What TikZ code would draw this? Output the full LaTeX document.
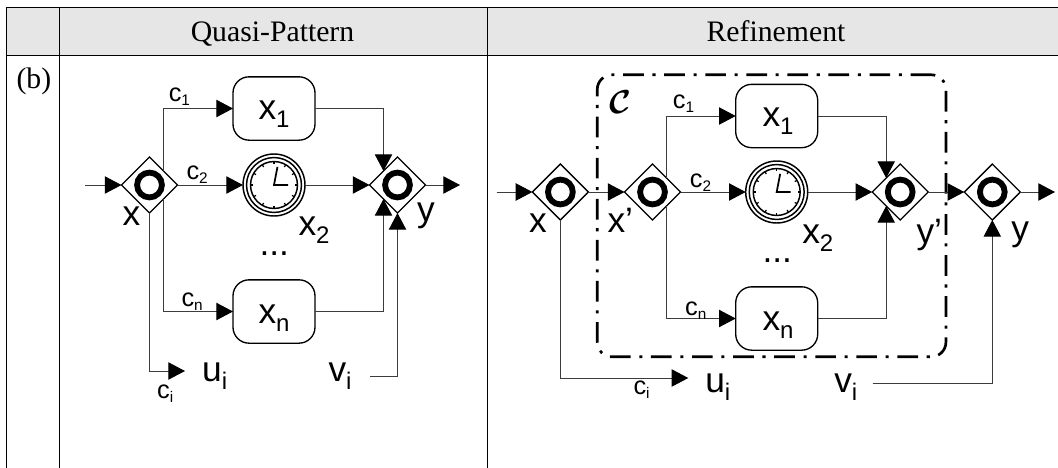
\documentclass[tikz,border=0pt]{standalone}
\usepackage{fontspec}
\setmainfont{Liberation Serif}
\setsansfont{Liberation Sans}
\usetikzlibrary{arrows.meta,shapes.geometric}

\tikzset{every picture/.style={line width=0.75pt}}
\tikzset{
  flow/.style={color={rgb, 255:red, 60; green, 60; blue, 60}, line width=0.75pt, -{Triangle[length=12.5pt,width=13pt,color=black]}},
  gate/.style={diamond, draw, line width=1pt, minimum size=42pt, inner sep=0pt, outer sep=0pt,
    path picture={\draw[line width=4.4pt] (path picture bounding box.center) circle (9.3pt);}},
  taskbox/.style={draw, line width=1pt, rounded corners=12pt, minimum width=61.5pt, minimum height=47.5pt, inner sep=0pt, outer sep=0pt},
  header/.style={font=\fontsize{22.3}{28}\selectfont, inner sep=0pt},
  biglabel/.style={font=\sffamily\fontsize{26.5}{30}\selectfont, inner sep=0pt, anchor=base west},
  smalllabel/.style={font=\sffamily\fontsize{19}{22}\selectfont, inner sep=0pt, anchor=base west},
  timerring/.style={circle, draw, line width=1.1pt, inner sep=0pt, outer sep=0pt, minimum size=46.5pt}
}
% subscripts for the large and the small labels
\newcommand{\lsub}[1]{\raisebox{-6pt}{\fontsize{18}{18}\selectfont #1}}
\newcommand{\ssub}[1]{\raisebox{-3pt}{\fontsize{11.5}{12}\selectfont #1}}
% timer event: name, x, y
\newcommand{\timerevent}[3]{
  \node (#1) [timerring] at (#2,#3) {};
  \draw [line width=1.1pt] (#1) circle (20.6pt);
  \draw [line width=1.1pt] (#1) circle (17.6pt);
  \foreach \tickangle in {0,30,...,330}
    \draw [line width=0.9pt] ([shift={(\tickangle:17.6pt)}]#1.center) -- ([shift={(\tickangle:15.6pt)}]#1.center);
  \draw [line width=1.3pt] ([shift={(2.6pt,-13.6pt)}]#1.center) -- (#1.center) -- ([shift={(10.5pt,0pt)}]#1.center);
}

\begin{document}
\boldmath
\begin{tikzpicture}[x=0.75pt,y=0.75pt,yscale=-1,xscale=1]
  \useasboundingbox (0,0) rectangle (1058,468);

  % Table
  \fill [color={rgb, 255:red, 230; green, 230; blue, 230}] (6.5,7.5) rectangle (1058,55.3);
  \draw [line width=1pt] (1058,7.5) -- (6.5,7.5) -- (6.5,468);
  \draw [line width=1pt] (6.5,55.3) -- (1058,55.3);
  \draw [line width=1pt] (59.5,7.5) -- (59.5,468);
  \draw [line width=1pt] (487.4,7.5) -- (487.4,468);

  % Text Node
  \node (headleft) [header, anchor=base] at (272.5,41) {Quasi-Pattern};
  \node (headright) [header, anchor=base] at (776,41) {Refinement};
  \node (rowlabel) [header, anchor=base west] at (16,88) {(b)};

  % Left gateways and tasks
  \node (xgate) [gate] at (149.5,185) {};
  \node (ygate) [gate] at (397.5,185) {};
  \node (xone) [taskbox] at (274,108.5) {};
  \node (xnn) [taskbox] at (274,311.5) {};
  \timerevent{xtwo}{274}{185}
  \coordinate (instart) at (85,185);
  \coordinate (outend) at (460,185);
  \coordinate (uend) at (185,371);
  \coordinate (vstart) at (370,376);

  % Left connectors
  \draw [flow] (instart) -- (xgate.west);
  \draw [flow] (xgate.east) -- (xtwo.west);
  \draw [flow] (xgate.north east) |- (xone.west);
  \draw [flow] (xgate.south east) |- (xnn.west);
  \draw [flow] (xgate.south) |- (uend);
  \draw [flow] (xone.east) -| (ygate.north west);
  \draw [flow] (xtwo.east) -- (ygate.west);
  \draw [flow] (xnn.east) -| (ygate.south west);
  \draw [flow] (vstart) -| (ygate.south);
  \draw [flow] (ygate.east) -- (outend);

  % Left labels
  \node (lblcone) [smalllabel] at (168.3,101.7) {c\ssub{1}};
  \node (lblctwo) [smalllabel] at (186,179) {c\ssub{2}};
  \node (lblcn) [smalllabel] at (181,306) {c\ssub{n}};
  \node (lblci) [smalllabel] at (156.7,398) {c\ssub{i}};
  \node (lblx) [biglabel] at (122,225) {x};
  \node (lblxone) [biglabel] at (258,119) {x\lsub{1}};
  \node (lblxtwo) [biglabel] at (298,235) {x\lsub{2}};
  \node (lbldots) [biglabel] at (259,255) {...};
  \node (lblxn) [biglabel] at (258,323) {x\lsub{n}};
  \node (lbly) [biglabel] at (416.7,221.7) {y};
  \node (lblu) [biglabel] at (201.7,381.7) {u\lsub{i}};
  \node (lblv) [biglabel] at (328,381.7) {v\lsub{i}};

  % Refinement gateways and tasks
  \node (cregion) [draw, line width=2pt, rounded corners=11pt, dash pattern={on 15.5pt off 6.5pt on 2.3pt off 6.5pt},
    minimum width=261.5pt, minimum height=211.5pt, inner sep=0pt] at (771.6,215.8) {};
  \node (rxgate) [gate] at (560.4,192) {};
  \node (rxpgate) [gate] at (652.5,192) {};
  \node (rypgate) [gate] at (900.2,192) {};
  \node (rygate) [gate] at (992.3,192) {};
  \node (rxone) [taskbox] at (776.7,116) {};
  \node (rxnn) [taskbox] at (776.7,318.5) {};
  \timerevent{rxtwo}{776.7}{192}
  \coordinate (rinstart) at (496.6,192);
  \coordinate (routend) at (1055,192);
  \coordinate (ruend) at (688.3,378);
  \coordinate (rvstart) at (872.6,383);

  % Refinement connectors
  \draw [flow] (rinstart) -- (rxgate.west);
  \draw [flow] (rxgate.east) -- (rxpgate.west);
  \draw [flow] (rxpgate.east) -- (rxtwo.west);
  \draw [flow] (rxpgate.north east) |- (rxone.west);
  \draw [flow] (rxpgate.south east) |- (rxnn.west);
  \draw [flow] (rxone.east) -| (rypgate.north west);
  \draw [flow] (rxtwo.east) -- (rypgate.west);
  \draw [flow] (rxnn.east) -| (rypgate.south west);
  \draw [flow] (rypgate.east) -- (rygate.west);
  \draw [flow] (rygate.east) -- (routend);
  \draw [flow] (rxgate.south) |- (ruend);
  \draw [flow] (rvstart) -| (rygate.south);

  % Refinement labels
  \node (lblregion) [inner sep=0pt, anchor=base west, font=\fontsize{28}{32}\selectfont] at (609,113) {$\mathcal{C}$};
  \node (rlblcone) [smalllabel] at (672.4,108) {c\ssub{1}};
  \node (rlblctwo) [smalllabel] at (689.4,187) {c\ssub{2}};
  \node (rlblcn) [smalllabel] at (684.6,315) {c\ssub{n}};
  \node (rlblci) [smalllabel] at (633,394) {c\ssub{i}};
  \node (rlblx) [biglabel] at (528.7,232) {x};
  \node (rlblxp) [biglabel] at (607,232) {x’};
  \node (rlblxone) [biglabel] at (762,126) {x\lsub{1}};
  \node (rlblxtwo) [biglabel] at (801.8,243) {x\lsub{2}};
  \node (rlbldots) [biglabel] at (762,262) {...};
  \node (rlblxn) [biglabel] at (762,330) {x\lsub{n}};
  \node (rlblyp) [biglabel] at (916,243) {y’};
  \node (rlbly) [biglabel] at (1010.8,240) {y};
  \node (rlblu) [biglabel] at (704.8,392) {u\lsub{i}};
  \node (rlblv) [biglabel] at (833.8,392) {v\lsub{i}};
\end{tikzpicture}
\end{document}
